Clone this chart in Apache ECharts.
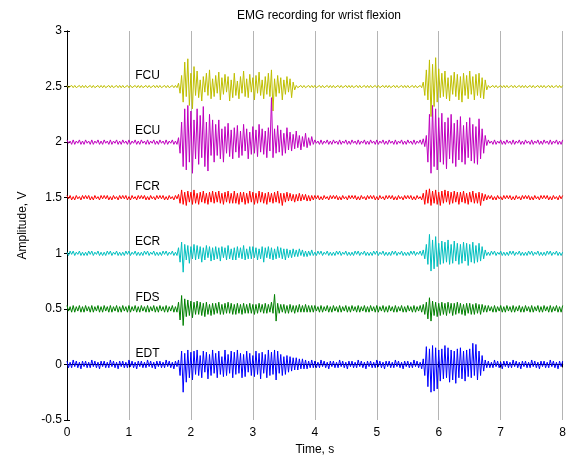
<!DOCTYPE html>
<html><head><meta charset="utf-8">
<script src="https://cdn.jsdelivr.net/npm/echarts@6/dist/echarts.min.js"></script>
<style>html,body{margin:0;padding:0;background:#fff}#c{width:569px;height:464px}</style>
</head><body><div id="c"></div>
<script>
// sample step (s) and channel info
var dt = 0.025;
var names = ['FCU','ECU','FCR','ECR','FDS','EDT'];
var baselines = [2.5, 2, 1.5, 1, 0.5, 0];
var colors = ['#BFBF00','#BF00BF','#FF0000','#00BFBF','#008000','#0000FF'];
// deviations from baseline, in hundredths of a volt, one sample every dt seconds
var FCU = [
1,-1,0,1,-1,1,-1,0,1,-1,1,-1, 1,-1,0,1,-1,1,-1,0,1,-1,1,-1, 1,-1,0,1,-1,1,-1,0,1,-1,1,-1,
1,-1,0,1,-1,1,-1,0,1,-1,1,-1, 1,-1,0,1,-1,1,-1,0,1,-1,1,-1, 1,-1,0,1,-1,1,-1,0,1,-1,1,-1,
3,-6,10,-14,22,-9,25,-17,12,-20,18,-8,
14,-10,6,-13,9,-5,12,-8,15,-11,7,-9,
10,-6,13,-12,8,-7,11,-5,9,-13,6,-10,
12,-8,5,-11,9,-6,14,-9,7,-10,11,-5,
8,-12,10,-6,13,-8,6,-11,9,-7,12,-9,
15,-22,7,-9,10,-6,8,-12,6,-7,9,-5,
7,-10,4,-3,
1,-1,0,1,-1,1,-1,0,1,-1,1,-1, 1,-1,0,1,-1,1,-1,0,1,-1,1,-1, 1,-1,0,1,-1,1,-1,0,1,-1,1,-1,
1,-1,0,1,-1,1,-1,0,1,-1,1,-1, 1,-1,0,1,-1,1,-1,0,1,-1,1,-1, 1,-1,0,1,-1,1,-1,0,1,-1,1,-1,
1,-1,0,1,-1,1,-1,0,1,-1,
4,-8,15,-12,24,-27,20,-18,26,-14,16,-10,
12,-9,14,-11,8,-13,10,-7,13,-9,11,-12,
9,-14,12,-8,10,-11,14,-7,9,-12,11,-8,
12,-10,8,-11,6,-3,
1,-1,0,1,-1,1,-1,0,1,-1,1,-1, 1,-1,0,1,-1,1,-1,0,1,-1,1,-1, 1,-1,0,1,-1,1,-1,0,1,-1,1,-1,
1,-1,0,1,-1,1,-1,0,1,-1,1,-1, 1];
var ECU = [
2,-1,1,-2,2,-2,1,-1,2,-2,1,-2, 2,-1,1,-2,2,-2,1,-1,2,-2,1,-2, 2,-1,1,-2,2,-2,1,-1,2,-2,1,-2,
2,-1,1,-2,2,-2,1,-1,2,-2,1,-2, 2,-1,1,-2,2,-2,1,-1,2,-2,1,-2, 2,-1,1,-2,2,-2,1,-1,2,-2,1,-2,
4,-10,18,-22,30,-25,33,-18,28,-28,20,-15,
30,-20,24,-14,32,-22,18,-26,25,-12,20,-18,
16,-12,20,-15,12,-18,14,-10,17,-13,11,-15,
13,-9,15,-14,10,-12,16,-8,12,-15,9,-11,
14,-10,11,-13,16,-9,12,-11,10,-14,13,-8,
40,-14,12,-10,15,-9,11,-12,8,-10,13,-7,
9,-8,7,-6,10,-5,6,-7,5,-4,8,-5,
4,-3,5,-2,
2,-1,1,-2,2,-2,1,-1,2,-2,1,-2, 2,-1,1,-2,2,-2,1,-1,2,-2,1,-2, 2,-1,1,-2,2,-2,1,-1,2,-2,1,-2,
2,-1,1,-2,2,-2,1,-1,2,-2,1,-2, 2,-1,1,-2,2,-2,1,-1,2,-2,1,-2, 2,-1,1,-2,2,-2,1,-1,2,-2,
3,-4,6,-18,25,-28,33,-22,30,-25,22,-18,
26,-20,18,-24,22,-15,25,-19,17,-22,20,-16,
23,-18,15,-20,18,-14,22,-17,16,-19,14,-20,
21,-15,12,-10,6,-3,
2,-1,1,-2,2,-2,1,-1,2,-2,1,-2, 2,-1,1,-2,2,-2,1,-1,2,-2,1,-2, 2,-1,1,-2,2,-2,1,-1,2,-2,1,-2,
2,-1,1,-2,2,-2,1,-1,2,-2,1,-2, 2];
var FCR = [
2,-1,2,-2,1,-2,2,-1,1,-2,2,-1, 2,-1,2,-2,1,-2,2,-1,1,-2,2,-1, 2,-1,2,-2,1,-2,2,-1,1,-2,2,-1,
2,-1,2,-2,1,-2,2,-1,1,-2,2,-1, 2,-1,2,-2,1,-2,2,-1,1,-2,2,-1, 2,-1,2,-2,1,-2,2,-1,1,-2,2,-1,
3,-5,7,-6,5,-7,6,-4,5,-6,7,-5,
4,-6,5,-4,6,-5,4,-6,5,-4,6,-5,
5,-4,6,-5,4,-6,5,-4,6,-5,4,-5,
6,-5,4,-6,5,-4,5,-6,4,-5,6,-4,
5,-6,4,-5,6,-4,5,-5,4,-6,5,-4,
4,-5,5,-4,6,-5,4,-7,4,-4,5,-3,
4,-3,3,-4,3,-3,4,-3,3,-2,3,-3,
2,-3,2,-2,
2,-1,2,-2,1,-2,2,-1,1,-2,2,-1, 2,-1,2,-2,1,-2,2,-1,1,-2,2,-1, 2,-1,2,-2,1,-2,2,-1,1,-2,2,-1,
2,-1,2,-2,1,-2,2,-1,1,-2,2,-1, 2,-1,2,-2,1,-2,2,-1,1,-2,2,-1, 2,-1,2,-2,1,-2,2,-1,1,-2,
4,-6,7,-5,8,-7,6,-5,7,-6,5,-7,
6,-5,7,-4,6,-6,5,-5,6,-4,5,-6,
5,-4,6,-5,4,-6,5,-4,6,-5,4,-5,
5,-7,4,-3,3,-2,
2,-1,2,-2,1,-2,2,-1,1,-2,2,-1, 2,-1,2,-2,1,-2,2,-1,1,-2,2,-1, 2,-1,2,-2,1,-2,2,-1,1,-2,2,-1,
2,-1,2,-2,1,-2,2,-1,1,-2,2,-1, 2];
var ECR = [
1,-2,2,-1,2,-2,1,-1,2,-2,1,-2, 1,-2,2,-1,2,-2,1,-1,2,-2,1,-2, 1,-2,2,-1,2,-2,1,-1,2,-2,1,-2,
1,-2,2,-1,2,-2,1,-1,2,-2,1,-2, 1,-2,2,-1,2,-2,1,-1,2,-2,1,-2, 1,-2,2,-1,2,-2,1,-1,2,-2,1,-2,
5,-8,10,-17,8,-6,7,-9,6,-5,8,-6,
7,-5,6,-8,5,-6,7,-4,6,-7,5,-6,
6,-5,5,-7,6,-4,5,-6,7,-5,4,-6,
5,-6,6,-4,5,-5,7,-6,4,-5,6,-5,
6,-4,5,-6,4,-5,6,-8,5,-4,6,-5,
5,-6,4,-5,6,-4,5,-5,4,-6,4,-4,
3,-4,4,-3,3,-3,4,-2,3,-3,2,-3,
2,-2,3,-2,
1,-2,2,-1,2,-2,1,-1,2,-2,1,-2, 1,-2,2,-1,2,-2,1,-1,2,-2,1,-2, 1,-2,2,-1,2,-2,1,-1,2,-2,1,-2,
1,-2,2,-1,2,-2,1,-1,2,-2,1,-2, 1,-2,2,-1,2,-2,1,-1,2,-2,1,-2, 1,-2,2,-1,2,-2,1,-1,2,-2,
3,-5,8,-10,17,-16,12,-14,15,-12,9,-10,
11,-9,10,-8,12,-10,8,-9,11,-7,9,-10,
8,-9,10,-7,9,-11,8,-8,10,-9,7,-8,
9,-7,6,-5,3,-2,
1,-2,2,-1,2,-2,1,-1,2,-2,1,-2, 1,-2,2,-1,2,-2,1,-1,2,-2,1,-2, 1,-2,2,-1,2,-2,1,-1,2,-2,1,-2,
1,-2,2,-1,2,-2,1,-1,2,-2,1,-2, 1];
var FDS = [
3,-2,2,-3,3,-3,2,-2,3,-3,2,-3, 3,-2,2,-3,3,-3,2,-2,3,-3,2,-3, 3,-2,2,-3,3,-3,2,-2,3,-3,2,-3,
3,-2,2,-3,3,-3,2,-2,3,-3,2,-3, 3,-2,2,-3,3,-3,2,-2,3,-3,2,-3, 3,-2,2,-3,3,-3,2,-2,3,-3,2,-3,
6,-10,12,-15,9,-7,8,-6,7,-8,6,-5,
7,-5,6,-6,5,-7,6,-5,4,-6,5,-5,
5,-4,6,-5,4,-5,5,-4,6,-4,5,-5,
4,-5,5,-4,4,-5,5,-4,4,-4,5,-4,
4,-5,4,-4,5,-3,4,-4,5,-4,4,-3,
6,-4,13,-11,5,-4,4,-3,4,-4,3,-4,
4,-3,3,-4,3,-3,4,-3,3,-3,4,-3,
3,-3,3,-3,
3,-2,2,-3,3,-3,2,-2,3,-3,2,-3, 3,-2,2,-3,3,-3,2,-2,3,-3,2,-3, 3,-2,2,-3,3,-3,2,-2,3,-3,2,-3,
3,-2,2,-3,3,-3,2,-2,3,-3,2,-3, 3,-2,2,-3,3,-3,2,-2,3,-3,2,-3, 3,-2,2,-3,3,-3,2,-2,3,-3,
4,-5,6,-9,10,-11,7,-6,6,-7,5,-6,
6,-5,5,-6,6,-4,5,-6,5,-5,6,-4,
5,-5,4,-6,5,-4,5,-5,4,-5,5,-4,
4,-5,4,-3,3,-3,
3,-2,2,-3,3,-3,2,-2,3,-3,2,-3, 3,-2,2,-3,3,-3,2,-2,3,-3,2,-3, 3,-2,2,-3,3,-3,2,-2,3,-3,2,-3,
3,-2,2,-3,3,-3,2,-2,3,-3,2,-3, 3];
var EDT = [
3,-3,2,-3,4,-2,3,-3,2,-4,3,-2, 3,-3,2,-3,4,-2,3,-3,2,-4,3,-2, 3,-3,2,-3,4,-2,3,-3,2,-4,3,-2,
3,-3,2,-3,4,-2,3,-3,2,-4,3,-2, 3,-3,2,-3,4,-2,3,-3,2,-4,3,-2, 3,-3,2,-3,4,-2,3,-3,2,-4,3,-2,
4,-10,12,-25,10,-16,13,-12,11,-14,12,-9,
13,-10,8,-12,12,-7,11,-13,9,-10,13,-8,
10,-12,12,-9,7,-11,13,-10,9,-8,12,-12,
11,-9,13,-8,10,-12,9,-11,12,-7,10,-10,
8,-11,12,-9,10,-13,11,-8,9,-12,13,-10,
11,-9,13,-14,12,-8,9,-10,7,-9,8,-7,
7,-6,6,-5,6,-5,5,-4,5,-4,4,-4,
3,-3,4,-3,
3,-3,2,-3,4,-2,3,-3,2,-4,3,-2, 3,-3,2,-3,4,-2,3,-3,2,-4,3,-2, 3,-3,2,-3,4,-2,3,-3,2,-4,3,-2,
3,-3,2,-3,4,-2,3,-3,2,-4,3,-2, 3,-3,2,-3,4,-2,3,-3,2,-4,3,-2, 3,-3,2,-3,4,-2,3,-3,2,-4,
5,-10,16,-20,14,-25,17,-24,15,-22,13,-15,
14,-13,17,-12,15,-16,13,-14,12,-17,14,-12,
15,-13,12,-15,13,-11,14,-12,19,-10,18,-14,
12,-10,8,-6,4,-3,
3,-3,2,-3,4,-2,3,-3,2,-4,3,-2, 3,-3,2,-3,4,-2,3,-3,2,-4,3,-2, 3,-3,2,-3,4,-2,3,-3,2,-4,3,-2,
3,-3,2,-3,4,-2,3,-3,2,-4,3,-2, 3];
var signals = [FCU, ECU, FCR, ECR, FDS, EDT];
var labelX = 1.3, labelOffset = 0.1;

var font = 'Liberation Sans, Arial, sans-serif';
var series = signals.map(function (sig, k) {
  return {
    type: 'line', name: names[k], showSymbol: false, animation: false,
    lineStyle: { color: colors[k], width: 1 }, itemStyle: { color: colors[k] },
    data: sig.map(function (v, i) { return [+(i * dt).toFixed(3), baselines[k] + v / 100]; }),
    markPoint: {
      symbol: 'circle', symbolSize: 0, silent: true,
      label: { show: true, position: 'inside', formatter: names[k], color: '#000', fontSize: 12, fontFamily: font },
      data: [{ coord: [labelX, baselines[k] + labelOffset] }]
    },
    z: 3
  };
});

var tick = { show: true, inside: true, length: 3, lineStyle: { color: '#000', width: 1 } };
var chart = echarts.init(document.getElementById('c'));
chart.setOption({
  animation: false,
  backgroundColor: '#fff',
  title: { text: 'EMG recording for wrist flexion', left: 314, top: 5, textAlign: 'center',
    textStyle: { fontSize: 12, fontWeight: 'normal', color: '#000', fontFamily: font } },
  grid: { left: 67, right: 3, top: 31, bottom: 44, containLabel: false },
  xAxis: [{
    type: 'value', min: 0, max: 8, interval: 1, position: 'bottom',
    axisLine: { show: true, lineStyle: { color: '#000', width: 1 } },
    axisTick: tick,
    axisLabel: { color: '#000', fontSize: 12, fontFamily: font, margin: 7 },
    splitLine: { show: true, lineStyle: { color: '#b4b4b4', type: 'solid', width: 1 } },
    name: 'Time, s', nameLocation: 'middle', nameGap: 23,
    nameTextStyle: { color: '#000', fontSize: 12, fontFamily: font }
  }, {
    type: 'value', min: 0, max: 8, interval: 1, position: 'top',
    axisLine: { show: true, lineStyle: { color: '#000', width: 1 } },
    axisTick: tick,
    axisLabel: { show: false }, splitLine: { show: false }
  }],
  yAxis: [{
    type: 'value', min: -0.5, max: 3, interval: 0.5, position: 'left',
    axisLine: { show: true, lineStyle: { color: '#000', width: 1 } },
    axisTick: tick,
    axisLabel: { color: '#000', fontSize: 12, fontFamily: font, margin: 5 },
    splitLine: { show: false },
    name: 'Amplitude, V', nameLocation: 'middle', nameGap: 38, nameRotate: 90,
    nameTextStyle: { color: '#000', fontSize: 12, fontFamily: font }
  }, {
    type: 'value', min: -0.5, max: 3, interval: 0.5, position: 'right',
    axisLine: { show: true, lineStyle: { color: '#000', width: 1 } },
    axisTick: tick,
    axisLabel: { show: false }, splitLine: { show: false }
  }],
  series: series
});
</script></body></html>
